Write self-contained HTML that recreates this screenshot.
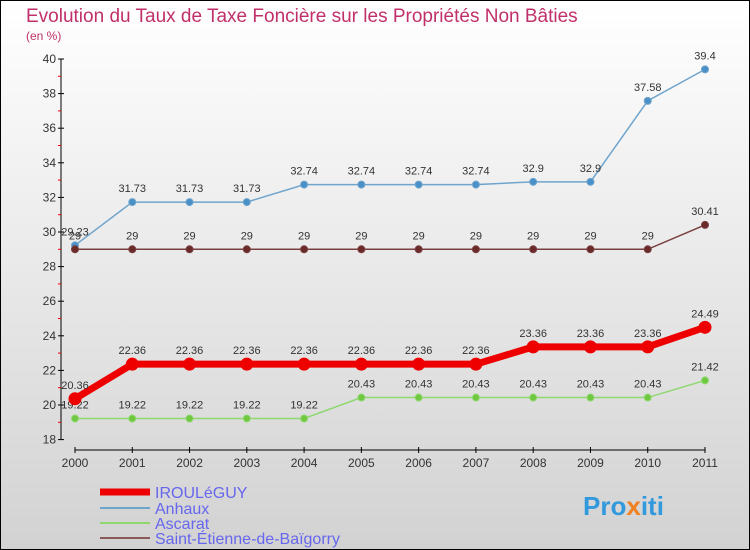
<!DOCTYPE html>
<html><head><meta charset="utf-8"><style>
body{margin:0}
svg{display:block;font-family:"Liberation Sans",sans-serif}
</style></head><body>
<svg id="c" width="750" height="550" xmlns="http://www.w3.org/2000/svg">
<defs><linearGradient id="bg" x1="0" y1="0" x2="0" y2="1"><stop offset="0" stop-color="#ffffff"/><stop offset="1" stop-color="#d2d2d2"/></linearGradient></defs>
<rect x="0.5" y="0.5" width="749" height="549" fill="url(#bg)" stroke="#000"/>
<text x="26" y="22" font-size="19" fill="#c0306a">Evolution du Taux de Taxe Foncière sur les Propriétés Non Bâties</text>
<text x="26" y="40" font-size="12" fill="#c0306a">(en %)</text>
<g id="axes"></g>
<g id="series"></g>
<g id="legend">
<line x1="100" y1="492" x2="150" y2="492" stroke="#e00" stroke-width="7"/>
<text x="155" y="498" font-size="16" fill="#6666ee">IROULéGUY</text>
<line x1="100" y1="508" x2="150" y2="508" stroke="#6fa4cc" stroke-width="2"/>
<text x="155" y="514" font-size="16" fill="#6666ee">Anhaux</text>
<line x1="100" y1="523" x2="150" y2="523" stroke="#8fd870" stroke-width="2"/>
<text x="155" y="529" font-size="16" fill="#6666ee">Ascarat</text>
<line x1="100" y1="538" x2="150" y2="538" stroke="#8a5a5a" stroke-width="2"/>
<text x="155" y="544" font-size="16" fill="#6666ee">Saint-Étienne-de-Baïgorry</text>
</g>
<text x="583" y="515" font-size="26" font-weight="bold" fill="#3399dd">Pro<tspan fill="#f08020">x</tspan>iti</text>
</svg>
<script>
const years=["2000","2001","2002","2003","2004","2005","2006","2007","2008","2009","2010","2011"];
const yTicks=[18,20,22,24,26,28,30,32,34,36,38,40];
const irouleguy=[20.36,22.36,22.36,22.36,22.36,22.36,22.36,22.36,23.36,23.36,23.36,24.49];
const anhaux=[29.23,31.73,31.73,31.73,32.74,32.74,32.74,32.74,32.9,32.9,37.58,39.4];
const ascarat=[19.22,19.22,19.22,19.22,19.22,20.43,20.43,20.43,20.43,20.43,20.43,21.42];
const stEtienne=[29,29,29,29,29,29,29,29,29,29,29,30.41];
const NS="http://www.w3.org/2000/svg";
const xs=i=>75+i*(630/11);
const ys=v=>405-(v-20)*17.3;
function mk(t,a,p){const e=document.createElementNS(NS,t);for(const k in a)e.setAttribute(k,a[k]);p.appendChild(e);return e;}
const ax=document.getElementById('axes');
let l=mk('line',{x1:61,y1:ys(40),x2:61,y2:ys(18),stroke:'#000'},ax);


yTicks.forEach(v=>{mk('line',{x1:58,y1:ys(v),x2:64,y2:ys(v),stroke:'#000'},ax);
 mk('line',{x1:58,y1:ys(v+1),x2:61,y2:ys(v+1),stroke:v<40?'#e00':'none'},ax);
 const t=mk('text',{x:56,y:ys(v)+4,'font-size':12,'text-anchor':'end',fill:'#333'},ax);t.textContent=v;
 
 });
l=mk('line',{x1:xs(0),y1:450,x2:xs(11),y2:450,stroke:'#000'},ax);


years.forEach((y,i)=>{mk('line',{x1:xs(i),y1:447,x2:xs(i),y2:453,stroke:'#000'},ax);
 const t=mk('text',{x:xs(i),y:467,'font-size':12,'text-anchor':'middle',fill:'#333'},ax);t.textContent=y;
 
 });
const sg=document.getElementById('series');
function series(name,data,col,w,r,dot){
 const g=mk('g',{},sg);
 
 
 mk('polyline',{points:data.map((v,i)=>xs(i)+','+ys(v)).join(' '),fill:'none',stroke:col,'stroke-width':w},g);
 data.forEach((v,i)=>{const c=mk('circle',{cx:xs(i),cy:ys(v),r:r,fill:dot,stroke:col},g);
  
  
  const t=mk('text',{x:xs(i),y:ys(v)-10,'font-size':11,'text-anchor':'middle',fill:'#333'},g);t.textContent=v;
  
  });
}
series('anhaux-series',anhaux,'#6fa4cc',1.5,3.5,'#4a90c8');
series('saint-etienne-series',stEtienne,'#7a4040',1.5,3.5,'#6a2a2a');
series('ascarat-series',ascarat,'#8fd870',1.5,3.5,'#70c840');
series('irouleguy-series',irouleguy,'#e00',7,6,'#e00');
</script>
</body></html>
